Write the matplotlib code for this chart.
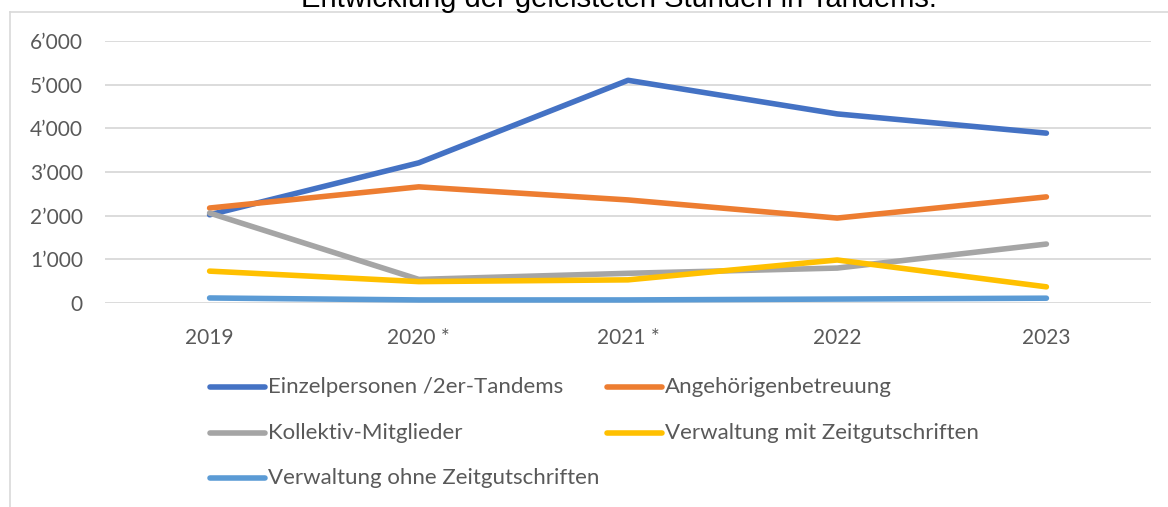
import matplotlib
matplotlib.use("Agg")
import matplotlib.pyplot as plt
from matplotlib.lines import Line2D
from matplotlib.ticker import FuncFormatter

years = ["2019", "2020 *", "2021 *", "2022", "2023"]
series_names = [
    "Einzelpersonen /2er-Tandems",
    "Angehörigenbetreuung",
    "Kollektiv-Mitglieder",
    "Verwaltung mit Zeitgutschriften",
    "Verwaltung ohne Zeitgutschriften",
]
einzel = [2020, 3210, 5100, 4330, 3890]
angehoerige = [2175, 2660, 2360, 1945, 2430]
kollektiv = [2060, 540, 680, 800, 1350]
verw_mit = [730, 490, 530, 985, 370]
verw_ohne = [115, 70, 70, 90, 110]
colors = ["#4472C4", "#ED7D31", "#A5A5A5", "#FFC000", "#5B9BD5"]
title = "Entwicklung der geleisteten Stunden in Tandems."
yticks = [0, 1000, 2000, 3000, 4000, 5000, 6000]

W, H = 1168, 507
fig = plt.figure(figsize=(W / 100, H / 100), dpi=100)
fig.patch.set_facecolor("white")

ax = fig.add_axes([105 / W, 1 - 303 / H, (1151 - 105) / W, (303 - 41) / H])
data = [einzel, angehoerige, kollektiv, verw_mit, verw_ohne]
x = list(range(len(years)))
for vals, c in zip(data, colors):
    ax.plot(x, vals, color=c, lw=4.0, solid_capstyle="round", solid_joinstyle="round", zorder=3)

ax.set_xlim(-0.5, len(years) - 0.5)
ax.set_ylim(0, 6000)
ax.set_yticks(yticks)
ax.yaxis.set_major_formatter(FuncFormatter(lambda v, p: "0" if v == 0 else f"{int(v)//1000}\u2019{int(v)%1000:03d}"))
ax.set_xticks(x)
ax.set_xticklabels(years)
ax.grid(axis="y", color="#D9D9D9", lw=1.3, zorder=0)
ax.set_axisbelow(True)
for s in ax.spines.values():
    s.set_visible(False)
ax.tick_params(axis="both", length=0, colors="#595959", labelsize=15)
ax.tick_params(axis="y", pad=16)
ax.tick_params(axis="x", pad=18)
for lab in ax.get_xticklabels() + ax.get_yticklabels():
    lab.set_fontfamily("Lato")

# border of chart area
fig.add_artist(Line2D([10 / W, 1.0], [1 - 12 / H, 1 - 12 / H], color="#D9D9D9", lw=1.2))
fig.add_artist(Line2D([10 / W, 10 / W], [1 - 12 / H, 0], color="#D9D9D9", lw=1.2))

# title (cut off at top, as in the original)
fig.text(0.53, 1 - 7 / H, title, ha="center", va="baseline", fontsize=21,
         family="Liberation Sans", color="#000000")

# legend drawn manually
col_x = [210, 607]
row_y = [387, 433, 478]
for i, (name, c) in enumerate(zip(series_names, colors)):
    cx = col_x[i % 2]
    ry = row_y[i // 2]
    fig.add_artist(Line2D([cx / W, (cx + 55) / W], [1 - ry / H, 1 - ry / H], color=c, lw=4.0,
                          solid_capstyle="round"))
    fig.text((cx + 58) / W, 1 - ry / H, name, ha="left", va="center", fontsize=16,
             family="Lato", color="#595959")

fig.savefig("out.png", dpi=100, facecolor="white")
